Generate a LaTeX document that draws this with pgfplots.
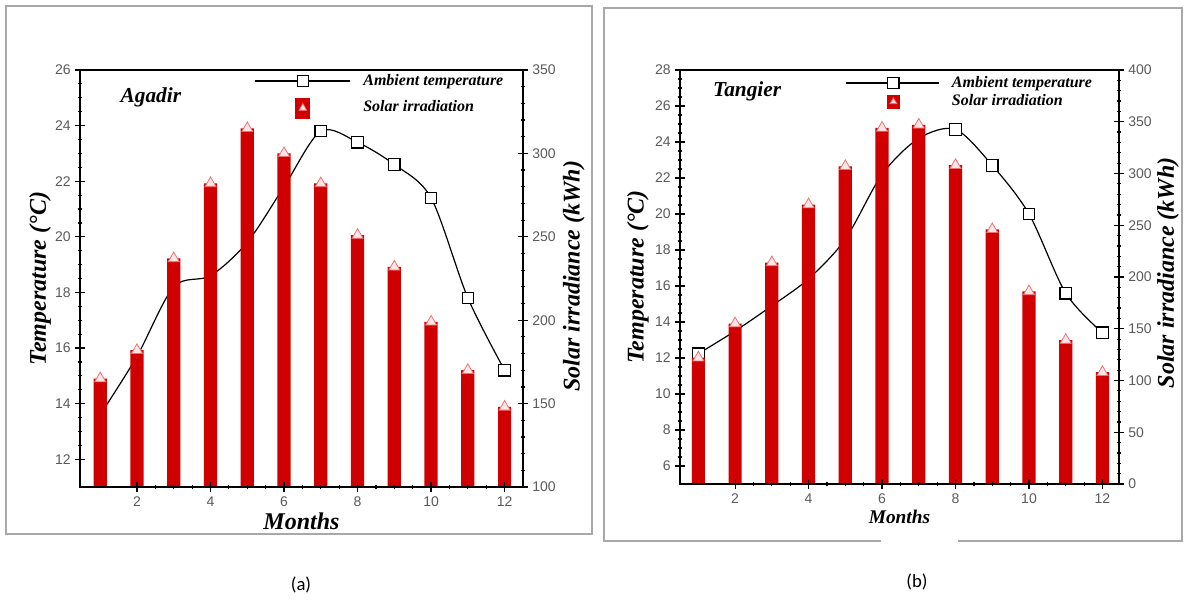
\documentclass[border=0pt]{standalone}
\usepackage{pgfplots}
\pgfplotsset{compat=1.18}
\usepackage{fontspec}
\setmainfont{Liberation Serif}
\newfontfamily\tickfont{Liberation Sans}
\newfontfamily\capfont{Carlito}
\definecolor{barred}{HTML}{D10000}
\definecolor{tri}{HTML}{FFE6E6}
\definecolor{triedge}{HTML}{F07070}
\definecolor{framegray}{HTML}{A8A8A8}
\definecolor{ticktext}{HTML}{5A5A5A}

\pgfplotsset{
  common/.style={
    scale only axis, anchor=south west,
    axis line style={line width=1.1pt},
    every tick/.style={black, line width=0.9pt},
    tick align=center,
    major tick length=7pt, minor tick length=3.5pt,
    xtick={2,4,...,12}, minor x tick num=3, xtick pos=bottom,
    tick label style={font=\tickfont\fontsize{10.5}{12}\selectfont, text=ticktext},
    /pgf/number format/assume math mode=true,
    label style={font=\fontsize{18}{21}\selectfont\bfseries\itshape},
  },
  templine/.style={black, line width=0.9pt, smooth, mark=square*,
    mark options={fill=white, line width=0.9pt, solid}, mark size=4.3pt},
  bars/.style={ybar, bar width=0.36, fill=barred, draw=none,
    mark=triangle*, mark size=4.8pt,
    mark options={fill=tri, draw=triedge, line width=0.6pt}},
}

\begin{document}
\begin{tikzpicture}
\path[use as bounding box] (0,0) rectangle (888pt,458.25pt);
% panel frames
\draw[framegray, line width=1.1pt] (4.5pt,57.75pt) rectangle (444pt,453.75pt);
\draw[framegray, line width=1.1pt] (660.75pt,52.5pt) -- (453pt,52.5pt) -- (453pt,452.25pt) -- (886.5pt,452.25pt) -- (886.5pt,52.5pt) -- (718.5pt,52.5pt);
\node[font=\capfont\fontsize{14}{16}\selectfont] at (225.75pt,19.5pt) {(a)};
\node[font=\capfont\fontsize{14}{16}\selectfont] at (687.75pt,21.75pt) {(b)};

% ---------------- Panel (a) : Agadir ----------------
\begin{axis}[common, at={(60pt,93pt)}, width=332.25pt, height=312.75pt,
  xmin=0.45, xmax=12.5, ymin=11, ymax=26,
  ytick={12,14,...,26}, minor y tick num=3, ytick pos=left,
  xlabel={Months}, ylabel={Temperature (°C)},
  xlabel style={at={(rel axis cs:0.5,-0.082)}, anchor=center},
  ylabel style={at={(rel axis cs:-0.09,0.5)}, anchor=center},
]
\addplot[templine] coordinates {(1,13.6)(2,15.7)(3,18.2)(4,18.6)(5,19.8)(6,21.8)(7,23.8)(8,23.4)(9,22.6)(10,21.4)(11,17.8)(12,15.2)};
\node[font=\fontsize{16}{19}\selectfont\bfseries\itshape] at (rel axis cs:0.16,0.935) {Agadir};
\end{axis}
\begin{axis}[common, at={(60pt,93pt)}, width=332.25pt, height=312.75pt,
  xmin=0.45, xmax=12.5, ymin=100, ymax=350, xticklabels={},
  ytick={100,150,...,350}, minor y tick num=4, ytick pos=right,
  axis on top,
  ylabel={Solar irradiance (kWh)},
  ylabel style={at={(rel axis cs:1.115,0.506)}, anchor=center},
  legend style={at={(rel axis cs:0.39,1.0)}, anchor=north west, draw=none, fill=none,
    font=\fontsize{12}{14}\selectfont\bfseries\itshape, row sep=6pt, column sep=7pt, inner sep=1pt},
  legend cell align=left,
]
\addlegendimage{legend image code/.code={
  \draw[black, line width=1.6pt] (0cm,0cm) -- (2.5cm,0cm);
  \draw[black, line width=0.9pt, fill=white] (1.1cm,-0.15cm) rectangle (1.4cm,0.15cm);}}
\addlegendentry{Ambient temperature}
\addplot[bars, legend image code/.code={
  \path[draw=none, fill=none] (0cm,0cm) -- (2.5cm,0cm);
  \fill[barred] (1.05cm,-0.3cm) rectangle (1.45cm,0.24cm);
  \draw[fill=tri, draw=triedge, line width=0.6pt] (1.15cm,-0.08cm) -- (1.35cm,-0.08cm) -- (1.25cm,0.1cm) -- cycle;}]
 coordinates {(1,165)(2,182)(3,237)(4,282)(5,315)(6,300)(7,282)(8,251)(9,232)(10,199)(11,170)(12,148)};
\addlegendentry{Solar irradiation}
\end{axis}

% ---------------- Panel (b) : Tangier ----------------
\begin{axis}[common, at={(510pt,95.25pt)}, width=329.25pt, height=310.5pt,
  xmin=0.5, xmax=12.45, ymin=5, ymax=28,
  ytick={6,8,...,28}, minor y tick num=3, ytick pos=left,
  xlabel={Months}, ylabel={Temperature (°C)},
  xlabel style={at={(rel axis cs:0.5,-0.08)}, anchor=center, font=\fontsize{14.5}{17}\selectfont\bfseries\itshape},
  ylabel style={at={(rel axis cs:-0.096,0.5)}, anchor=center},
]
\addplot[templine] coordinates {(1,12.24)(2,13.5)(3,14.9)(4,16.4)(5,18.6)(6,22.2)(7,24.2)(8,24.7)(9,22.7)(10,20.0)(11,15.6)(12,13.4)};
\node[font=\fontsize{16}{19}\selectfont\bfseries\itshape] at (rel axis cs:0.153,0.949) {Tangier};
\end{axis}
\begin{axis}[common, at={(510pt,95.25pt)}, width=329.25pt, height=310.5pt,
  xmin=0.5, xmax=12.45, ymin=0, ymax=400, xticklabels={},
  ytick={0,50,...,400}, minor y tick num=4, ytick pos=right,
  axis on top,
  ylabel={Solar irradiance (kWh)},
  ylabel style={at={(rel axis cs:1.112,0.51)}, anchor=center},
  legend style={at={(rel axis cs:0.372,0.995)}, anchor=north west, draw=none, fill=none,
    font=\fontsize{12}{13}\selectfont\bfseries\itshape, row sep=0pt, column sep=7pt, inner sep=1pt},
  legend cell align=left,
]
\addlegendimage{legend image code/.code={
  \draw[black, line width=1.6pt] (0cm,0cm) -- (2.45cm,0cm);
  \draw[black, line width=0.9pt, fill=white] (1.1cm,-0.15cm) rectangle (1.4cm,0.15cm);}}
\addlegendentry{Ambient temperature}
\addplot[bars, legend image code/.code={
  \path[draw=none, fill=none] (0cm,0cm) -- (2.45cm,0cm);
  \fill[barred] (1.08cm,-0.2cm) rectangle (1.42cm,0.16cm);
  \draw[fill=tri, draw=triedge, line width=0.6pt] (1.16cm,-0.06cm) -- (1.34cm,-0.06cm) -- (1.25cm,0.09cm) -- cycle;}]
 coordinates {(1,122)(2,155)(3,214)(4,270)(5,307)(6,344)(7,347)(8,308)(9,246)(10,186)(11,139)(12,108)};
\addlegendentry{Solar irradiation}
\end{axis}
\end{tikzpicture}
\end{document}
